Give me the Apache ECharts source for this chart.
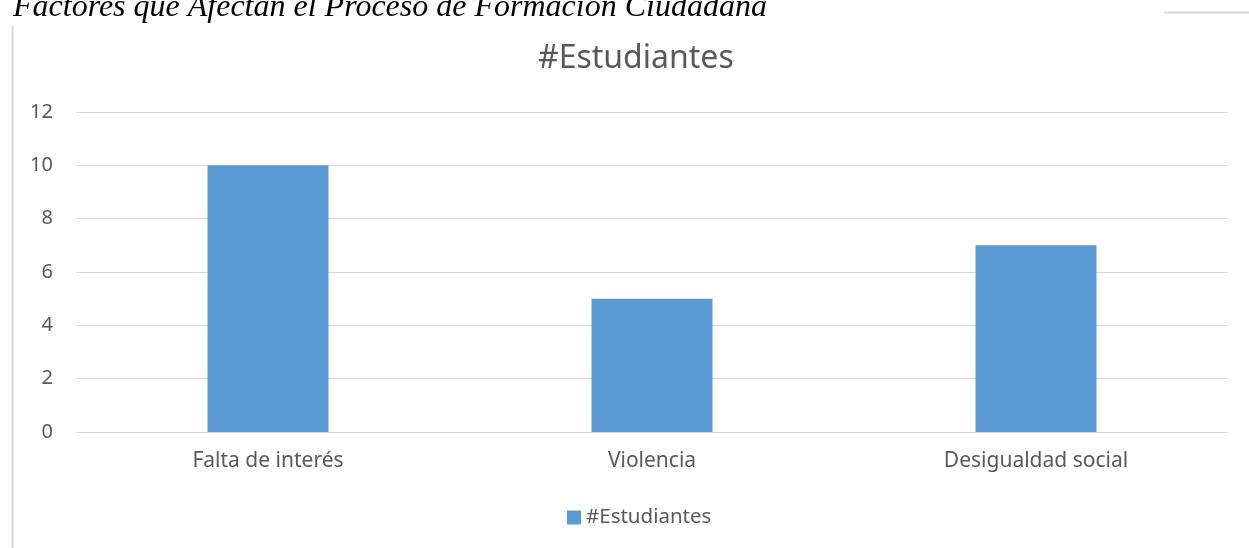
<!DOCTYPE html>
<html><head><meta charset="utf-8">
<script src="https://cdn.jsdelivr.net/npm/echarts@6/dist/echarts.min.js"></script>
<style>html,body{margin:0;padding:0;background:#fff}#c{width:1249px;height:548px}</style>
</head><body><div id="c"></div>
<script>
const categories = ['Falta de interés', 'Violencia', 'Desigualdad social'];
const seriesName = '#Estudiantes';
const values = [10, 5, 7];
const yTicks = [0, 2, 4, 6, 8, 10, 12];

const chart = echarts.init(document.getElementById('c'));
chart.setOption({
  animation: false,
  title: [
    { text: 'Factores que Afectan el Proceso de Formación Ciudadana', left: 8, top: -13,
      textStyle: { fontFamily: 'Liberation Serif', fontStyle: 'italic', fontWeight: 'normal', fontSize: 32, color: '#000' } },
    { text: '#Estudiantes', left: 533, top: 38,
      textStyle: { fontFamily: 'Noto Sans', fontWeight: 'normal', fontSize: 32, color: '#595959' } }
  ],
  graphic: [
    { type: 'line', shape: { x1: 12.5, y1: 26, x2: 12.5, y2: 548 }, style: { stroke: '#d9d9d9', lineWidth: 2 } },
    { type: 'line', shape: { x1: 1164, y1: 12.5, x2: 1249, y2: 12.5 }, style: { stroke: '#d9d9d9', lineWidth: 2 } }
  ],
  legend: {
    data: [seriesName], bottom: 15, left: 562, icon: 'rect', itemWidth: 14, itemHeight: 14, itemGap: 6,
    textStyle: { fontFamily: 'Noto Sans', fontSize: 20.5, color: '#595959' }
  },
  grid: { left: 76, right: 21, top: 112, bottom: 116, containLabel: false },
  xAxis: {
    type: 'category', data: categories,
    axisLine: { lineStyle: { color: '#d9d9d9', width: 1 } },
    axisTick: { show: false },
    axisLabel: { fontFamily: 'Noto Sans', fontSize: 21, color: '#595959', margin: 19 }
  },
  yAxis: {
    type: 'value', min: yTicks[0], max: yTicks[yTicks.length - 1], interval: 2,
    axisLine: { show: false }, axisTick: { show: false },
    splitLine: { lineStyle: { color: '#d9d9d9', width: 1 } },
    axisLabel: { fontFamily: 'Noto Sans', fontSize: 20, color: '#595959', margin: 23 }
  },
  series: [{
    name: seriesName, type: 'bar', data: values, barWidth: '31.5%',
    itemStyle: { color: '#5b9bd5' }
  }]
});
</script></body></html>
